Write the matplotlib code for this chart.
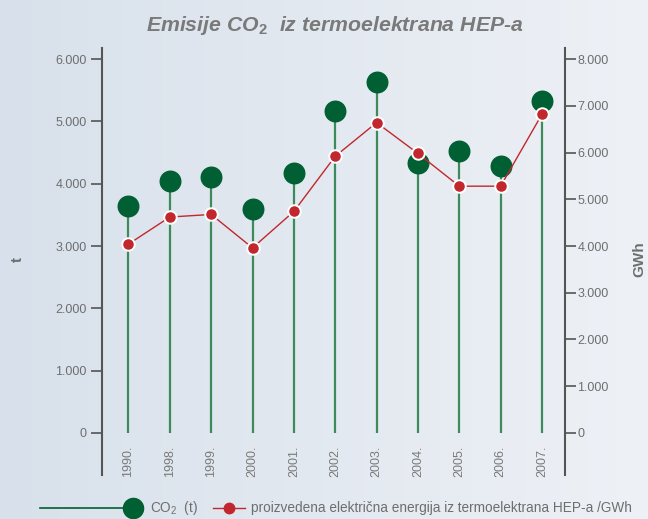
import matplotlib
matplotlib.use("Agg")
import matplotlib.pyplot as plt
import numpy as np
from matplotlib.lines import Line2D

plt.rcParams["font.family"] = ["Liberation Sans", "DejaVu Sans"]
plt.rcParams["mathtext.fontset"] = "custom"
plt.rcParams["mathtext.rm"] = "Liberation Sans"
plt.rcParams["mathtext.it"] = "Liberation Sans:italic"
plt.rcParams["mathtext.bf"] = "Liberation Sans:bold"

years = ["1990.", "1998.", "1999.", "2000.", "2001.", "2002.",
         "2003.", "2004.", "2005.", "2006.", "2007."]
co2_t = [3640, 4040, 4110, 3600, 4175, 5160, 5630, 4330, 4520, 4280, 5330]
energy_gwh = [4040, 4620, 4675, 3960, 4740, 5920, 6640, 5980, 5280, 5280, 6820]
left_ticks = [0, 1000, 2000, 3000, 4000, 5000, 6000]
right_ticks = [0, 1000, 2000, 3000, 4000, 5000, 6000, 7000, 8000]

GREEN = "#005f33"
STEM = "#3d8a5c"
RED = "#c1272d"
GRAY = "#6e6e6e"
AXC = "#555555"


def fmt(v):
    return f"{v:,}".replace(",", ".")


fig = plt.figure(figsize=(6.48, 5.19), dpi=100)

# background gradient
bg = fig.add_axes([0, 0, 1, 1], zorder=-10)
grad = np.linspace(0, 1, 256).reshape(1, -1)
cmap = matplotlib.colors.LinearSegmentedColormap.from_list("bg", ["#d8e1eb", "#eef1f6"])
bg.imshow(grad, aspect="auto", cmap=cmap, extent=[0, 1, 0, 1])
bg.axis("off")

ax = fig.add_axes([0.1574, 0.0848, 0.7145, 0.8227])
ax.patch.set_alpha(0)
x = np.arange(len(years))

ax.vlines(x, 0, co2_t, color=STEM, lw=1.6, zorder=2)
ax.plot(x, co2_t, "o", color=GREEN, ms=14.8, zorder=3, ls="none")

ax.set_xlim(-0.64, len(years) - 1 + 0.556)
ax.set_ylim(-674, 6177)
ax.set_yticks(left_ticks)
ax.set_yticklabels([fmt(v) for v in left_ticks])
ax.set_xticks([])

ax2 = ax.twinx()
ax2.plot(x, energy_gwh, color=RED, lw=1.0, marker="o", ms=9,
         mfc=RED, mec="white", mew=1.4, zorder=4)
lo, hi = ax.get_ylim()
ax2.set_ylim(lo * 8000 / 6000, hi * 8000 / 6000)
ax2.set_yticks(right_ticks)
ax2.set_yticklabels([fmt(v) for v in right_ticks])

for a in (ax, ax2):
    for s in ("top", "bottom"):
        a.spines[s].set_visible(False)
    for s in ("left", "right"):
        a.spines[s].set_color(AXC)
        a.spines[s].set_linewidth(1.5)
    a.tick_params(axis="y", length=8, width=1.2, color=AXC, labelcolor=GRAY,
                  labelsize=9, pad=3)
ax.spines["right"].set_visible(False)
ax2.spines["left"].set_visible(False)
ax2.tick_params(axis="y", pad=1)

for xi, lab in zip(x, years):
    ax.text(xi, -200, lab, rotation=90, ha="center", va="top",
            fontsize=9, color="#7a7a7a")

fig.text(0.028, 0.50, "t", rotation=90, ha="center", va="center",
         fontsize=11, fontweight="bold", color=GRAY)
fig.text(0.987, 0.50, "GWh", rotation=90, ha="center", va="center",
         fontsize=11, fontweight="bold", color=GRAY)

fig.text(0.516, 0.951, r"Emisije CO$_{\mathbf{2}}$  iz termoelektrana HEP-a",
         ha="center", va="center", fontsize=15.3, fontweight="bold",
         fontstyle="italic", color="#7a7a7a")

# legend drawn by hand
ly = 1 - 508 / 519
fig.add_artist(Line2D([40 / 648, 133 / 648], [ly, ly], color=GREEN, lw=1.2))
fig.add_artist(Line2D([133 / 648], [ly], marker="o", color=GREEN, ms=14.5, ls="none"))
fig.text(150 / 648, ly, r"CO$_2$  (t)", ha="left", va="center", fontsize=9.8, color=GRAY)
fig.add_artist(Line2D([213 / 648, 245 / 648], [ly, ly], color=RED, lw=1.0))
fig.add_artist(Line2D([229 / 648], [ly], marker="o", color=RED, ms=7.5, ls="none"))
fig.text(251 / 648, ly, "proizvedena električna energija iz termoelektrana HEP-a /GWh",
         ha="left", va="center", fontsize=9.8, color=GRAY)

fig.savefig("out.png", dpi=100)
